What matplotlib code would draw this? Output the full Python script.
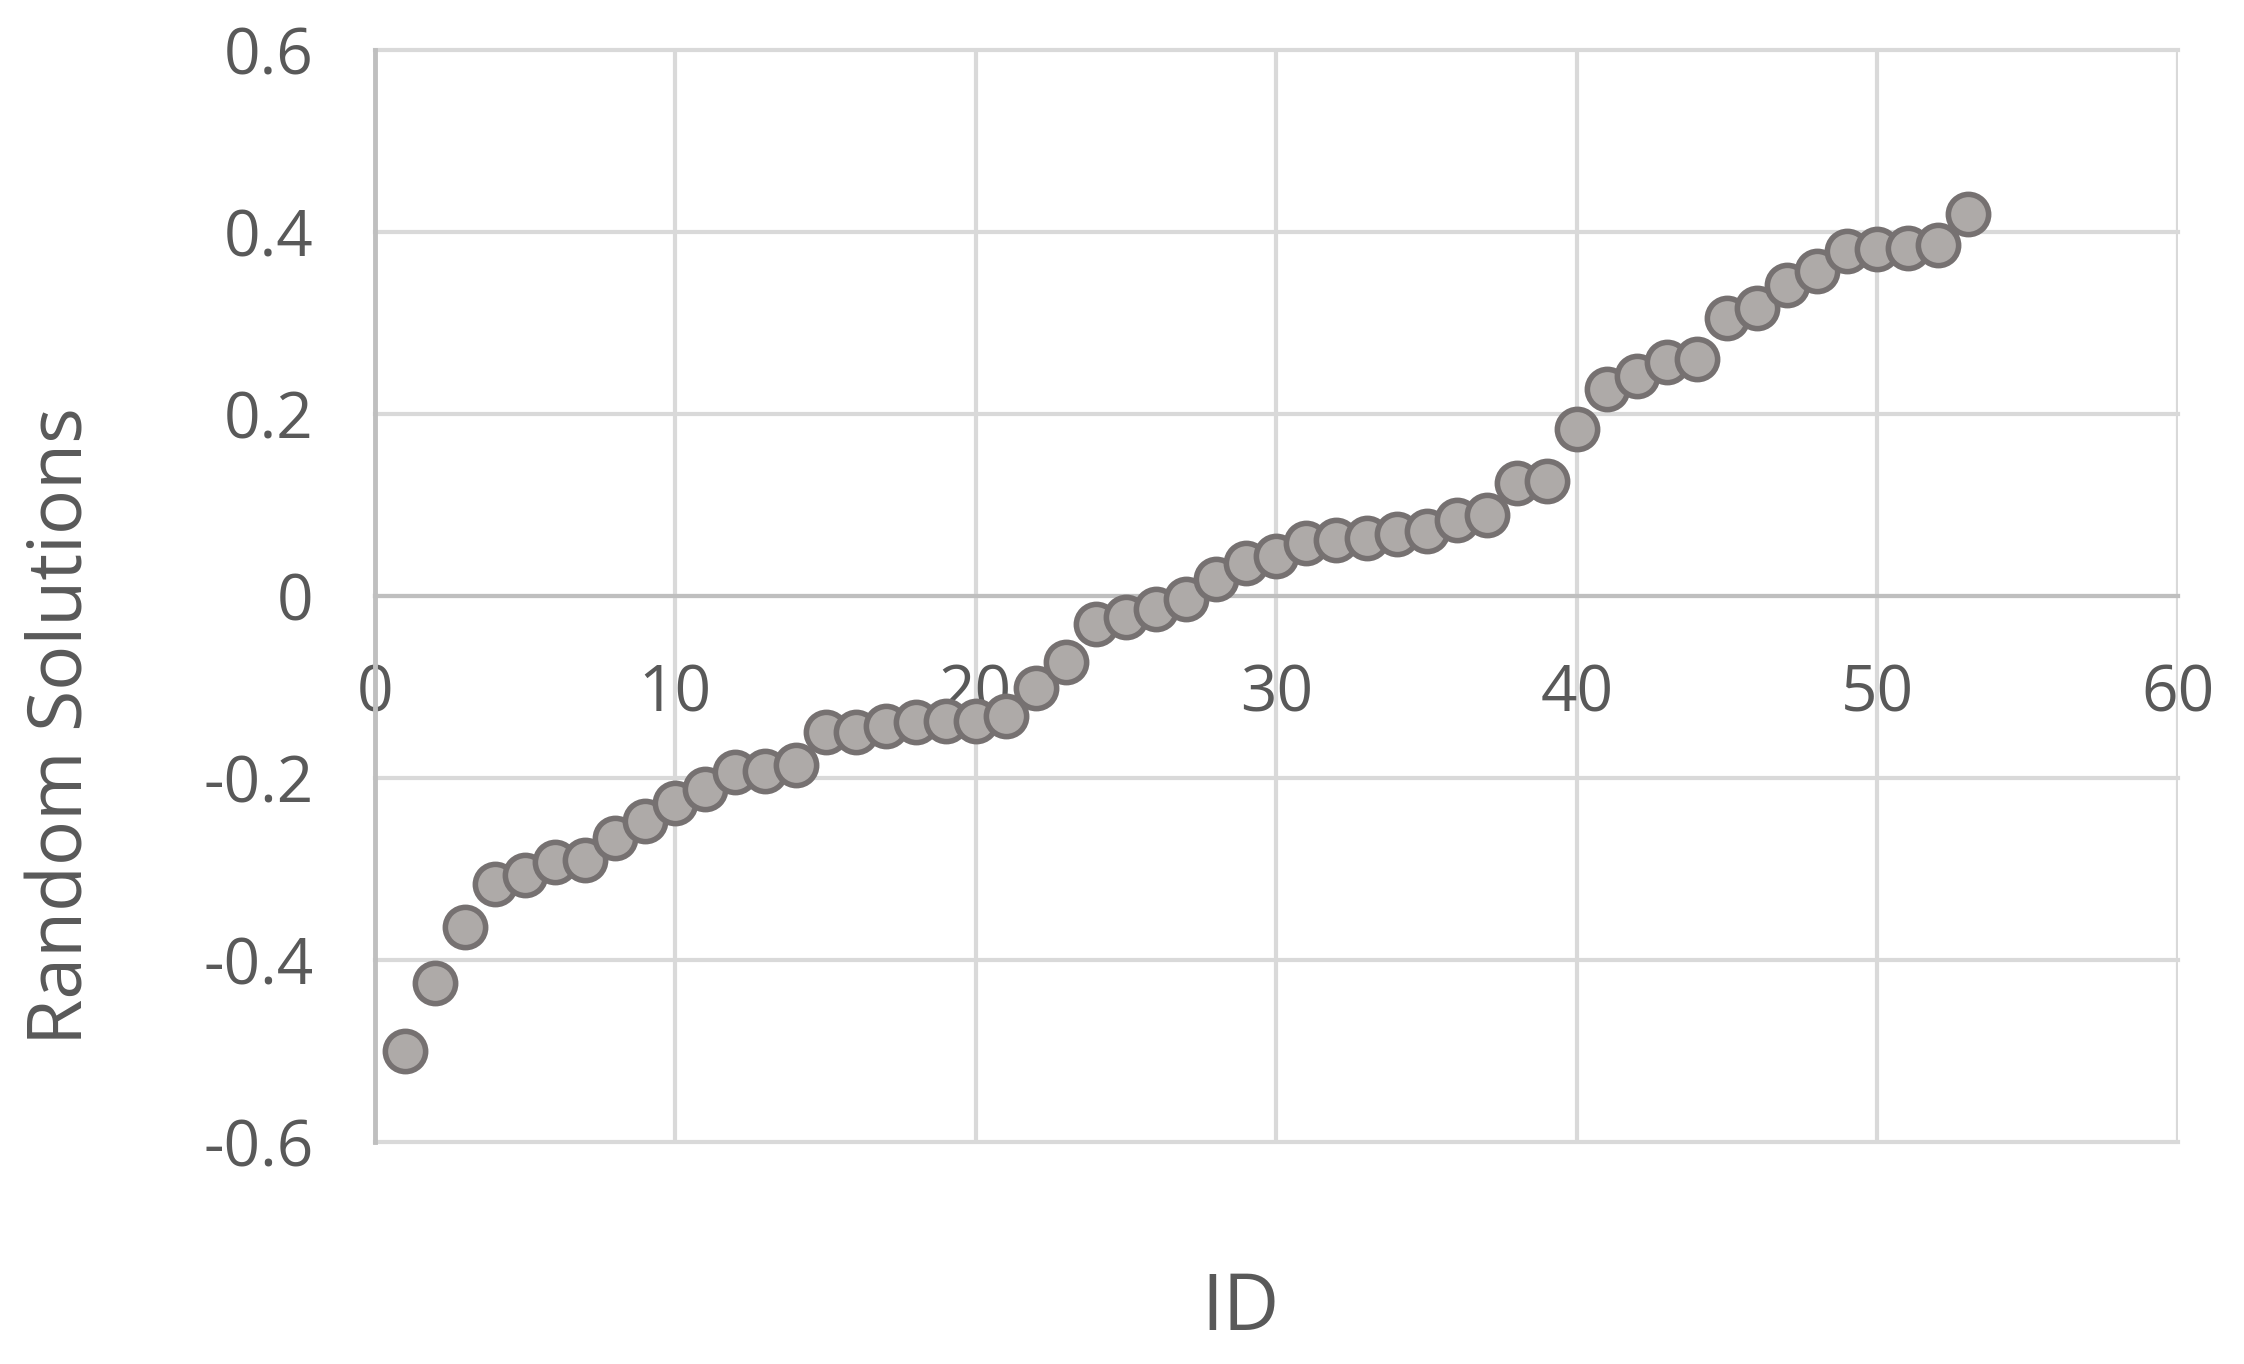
import matplotlib
matplotlib.use("Agg")
import matplotlib.pyplot as plt

# sorted random-solution scores, one per ID
ids = list(range(1, 54))
scores = [-0.500, -0.425, -0.364, -0.317, -0.307, -0.292, -0.290, -0.266, -0.247, -0.227,
          -0.212, -0.193, -0.192, -0.186, -0.150, -0.150, -0.143, -0.139, -0.137, -0.137,
          -0.132, -0.101, -0.072, -0.031, -0.023, -0.014, -0.003, 0.019, 0.036, 0.044,
          0.058, 0.062, 0.064, 0.068, 0.071, 0.084, 0.089, 0.124, 0.126, 0.184,
          0.227, 0.242, 0.257, 0.260, 0.305, 0.317, 0.342, 0.357, 0.379, 0.381,
          0.382, 0.386, 0.420]
xticks = [0, 10, 20, 30, 40, 50, 60]
yticks = [-0.6, -0.4, -0.2, 0, 0.2, 0.4, 0.6]

plt.rcParams["font.family"] = ["Open Sans", "DejaVu Sans"]
TXT = "#595959"

fig = plt.figure(figsize=(22.44, 13.64), dpi=100)
ax = fig.add_axes([0.167, 0.1628, 0.8036, 0.8005])

ax.scatter(ids, scores, s=29**2, facecolor="#aeaaa8", edgecolor="#767171", linewidth=4, zorder=3)

ax.set_xlim(0, 60); ax.set_ylim(-0.6, 0.6)
ax.set_xticks(xticks); ax.set_yticks(yticks)
ax.set_xticklabels([str(t) for t in xticks])
ax.set_yticklabels(["-0.6", "-0.4", "-0.2", "0", "0.2", "0.4", "0.6"])
ax.grid(True, color="#d9d9d9", lw=3, zorder=0)
for gl in ax.get_xgridlines() + ax.get_ygridlines():
    gl.set_clip_on(False)
ax.tick_params(length=0, labelsize=46, labelcolor=TXT)
ax.tick_params(axis="y", pad=44)
ax.tick_params(axis="x", pad=48)

for sp in ("top", "right"): ax.spines[sp].set_visible(False)
ax.spines["bottom"].set_position(("data", 0))
ax.spines["bottom"].set_color("#bfbfbf"); ax.spines["bottom"].set_linewidth(3)
ax.spines["left"].set_color("#bfbfbf"); ax.spines["left"].set_linewidth(3.5)
ax.set_axisbelow(True)

fig.text(0.028, 0.468, "Random Solutions", rotation=90, ha="center", va="center", fontsize=54, color=TXT)
fig.text(0.553, 0.04, "ID", ha="center", va="center", fontsize=56, color=TXT)

fig.savefig("out.png", dpi=100)
